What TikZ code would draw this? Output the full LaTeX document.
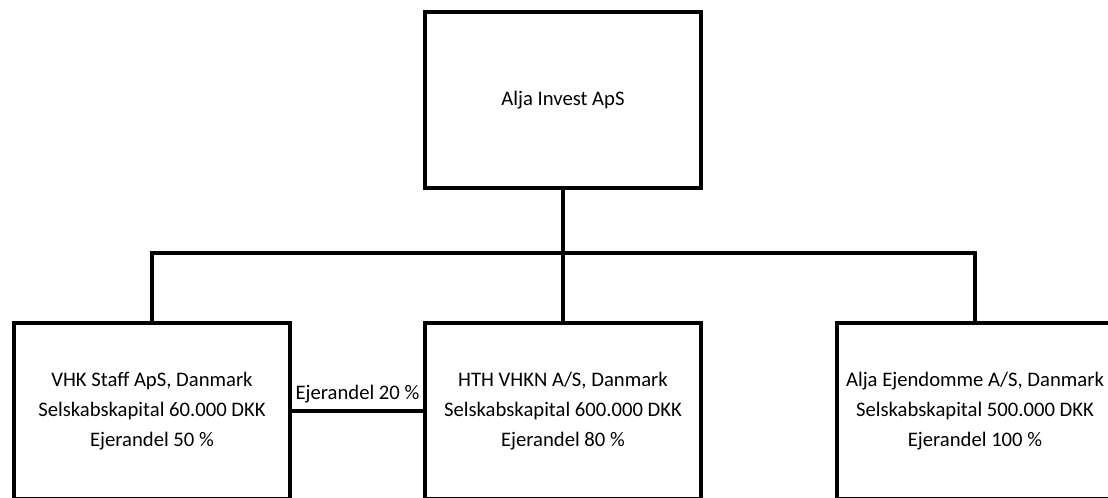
\documentclass[tikz,border=0pt]{standalone}
\usepackage{fontspec}
\setmainfont{Carlito}
\usetikzlibrary{positioning}

\tikzset{
  firmbox/.style={draw, line width=3pt, minimum width=207pt, minimum height=132pt, inner sep=0.75pt, align=center, font=\fontsize{15.5}{22.5}\selectfont},
  owner/.style={line width=3pt}
}

\begin{document}
\begin{tikzpicture}[x=0.75pt,y=0.75pt,yscale=-1,xscale=1]
\useasboundingbox (0,0) rectangle (1108,497);
\clip (0,0) rectangle (1108,497);

%Shape: Rectangle [parent]
\node [firmbox] (alja) at (563,100) {Alja Invest ApS};
%Shape: Rectangle [subsidiaries]
\node [firmbox] (vhk) at (152,411) {VHK Staff ApS, Danmark\\Selskabskapital 60.000 DKK\\Ejerandel 50 \%};
\node [firmbox] (hth) at (563,411) {HTH VHKN A/S, Danmark\\Selskabskapital 600.000 DKK\\Ejerandel 80 \%};
\node [firmbox] (ejd) at (975,411) {Alja Ejendomme A/S, Danmark\\Selskabskapital 500.000 DKK\\Ejerandel 100 \%};

%Straight Lines
\coordinate (bus) at (563,253);
\draw [owner] (alja.south) -- (hth.north);
\draw [owner] (vhk.north) |- (bus) -| (ejd.north);
\draw [owner] (vhk.east) -- (hth.west) node [midway, above, inner sep=4.5pt, font=\fontsize{15.5}{18}\selectfont] (cross) {Ejerandel 20 \%};

\end{tikzpicture}
\end{document}
